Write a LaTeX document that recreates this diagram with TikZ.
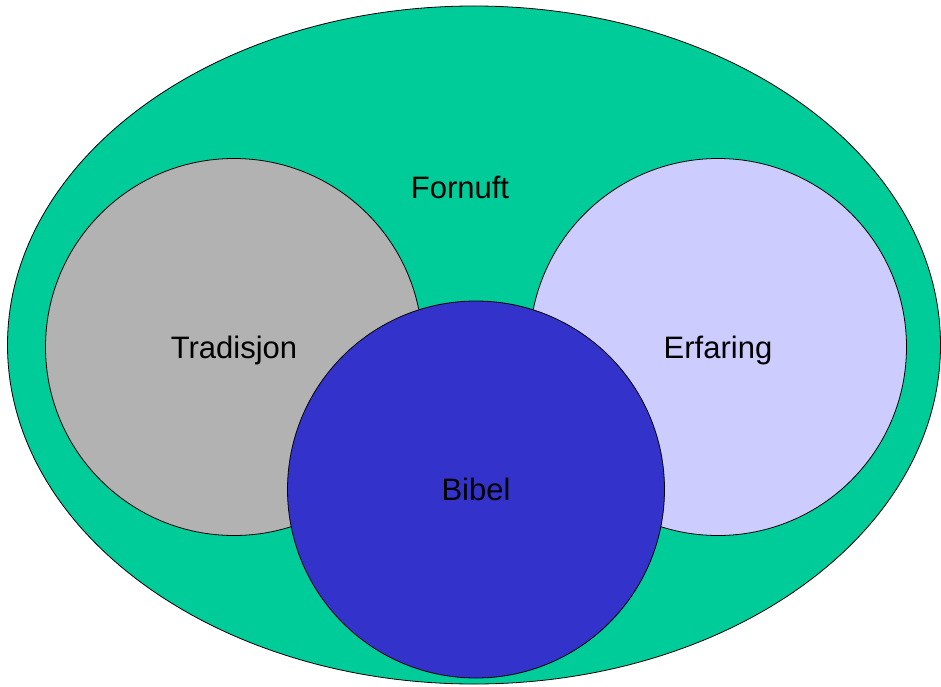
\documentclass[tikz,border=0pt]{standalone}
\usepackage{fontspec}
\setmainfont{Liberation Sans}
\usetikzlibrary{shapes.geometric}
\definecolor{fornuftgreen}{RGB}{0,204,153}
\definecolor{tradgray}{RGB}{178,178,178}
\definecolor{erflilac}{RGB}{204,204,255}
\definecolor{bibelblue}{RGB}{51,51,204}

\begin{document}
\begin{tikzpicture}[x=1pt,y=-1pt,
    word/.style={font=\fontsize{31}{37}\selectfont,text height=22pt,text depth=0pt},
    disc/.style={circle,draw=black,line width=0.8pt,minimum size=377pt,inner sep=0pt,word}]
        \useasboundingbox (0,0) rectangle (941,687);
        \node[ellipse,draw=black,line width=0.8pt,fill=fornuftgreen,minimum width=933pt,minimum height=678pt,inner sep=0pt] (fornuft) at (474,345) {};
        \node[word] (fornufttext) at (460,187.5) {Fornuft};
        \node[disc,fill=tradgray] (tradisjon) at (234,347) {Tradisjon};
        \node[disc,fill=erflilac] (erfaring) at (718,347) {Erfaring};
        \node[disc,fill=bibelblue] (bibel) at (476,489.5) {Bibel};
      \end{tikzpicture}
\end{document}
